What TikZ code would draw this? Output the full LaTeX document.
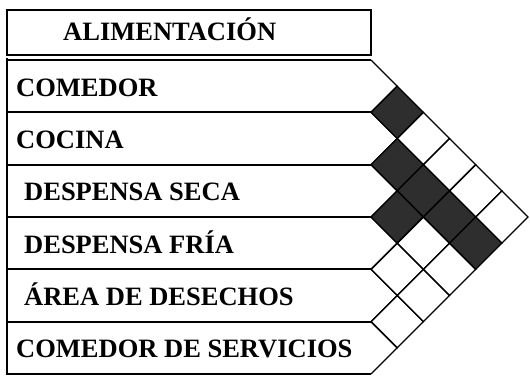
\documentclass[tikz,border=0pt]{standalone}
\usepackage{fontspec}
\setmainfont{Liberation Serif}
\begin{document}
\begin{tikzpicture}[x=1pt,y=-1pt,
  hline/.style={line width=2.2pt},
  frameline/.style={line width=1.6pt},
  gridline/.style={line width=1.3pt,line join=miter},
  shaded/.style={fill=black!82},
  lbl/.style={font=\bfseries\fontsize{26.5}{30}\selectfont,inner sep=0pt,anchor=base west}]
\useasboundingbox (0,0) rectangle (530,377);
\def\xr{371}
\def\hh{26.1667}
% header
\draw[frameline] (7,10) rectangle (\xr,55);
\node[lbl] (head) at (63,41) {ALIMENTACIÓN};
% rows
\foreach \i in {1,...,6}{
  \pgfmathsetmacro\top{60+(\i-1)*2*\hh}
  \pgfmathsetmacro\mid{\top+\hh}
  \pgfmathsetmacro\bot{\top+2*\hh}
  \coordinate (rt\i) at (\xr,\top);
  \coordinate (rp\i) at ({\xr+\hh},\mid);
  \coordinate (rb\i) at (\xr,\bot);
  \draw[hline] (7,\top) -- (rt\i);
  \draw[hline] (7,\bot) -- (rb\i);
  \draw[gridline] (rt\i) -- (rp\i) -- (rb\i);
}
\draw[frameline] (7,58) -- (7,375);
% matrix cells
\foreach \i/\j/\s in {1/2/1,1/3/0,1/4/0,1/5/0,1/6/0,
                      2/3/1,2/4/1,2/5/1,2/6/1,
                      3/4/1,3/5/0,3/6/0,
                      4/5/0,4/6/0,
                      5/6/0}{
  \pgfmathsetmacro\cx{\xr+\hh*(\j-\i)}
  \pgfmathsetmacro\cy{60+\hh*(\i+\j-1)}
  \ifnum\s=1
    \fill[shaded] (\cx-\hh,\cy) -- (\cx,\cy-\hh) -- (\cx+\hh,\cy) -- (\cx,\cy+\hh) -- cycle;
  \fi
  \draw[gridline] (\cx-\hh,\cy) -- (\cx,\cy-\hh) -- (\cx+\hh,\cy) -- (\cx,\cy+\hh) -- cycle;
}
% labels
\node[lbl] (l1) at (16,{60+1*\hh+10}) {COMEDOR};
\node[lbl] (l2) at (16,{60+3*\hh+10}) {COCINA};
\node[lbl] (l3) at (24,{60+5*\hh+10}) {DESPENSA SECA};
\node[lbl] (l4) at (24,{60+7*\hh+10}) {DESPENSA FRÍA};
\node[lbl] (l5) at (24,{60+9*\hh+10}) {ÁREA DE DESECHOS};
\node[lbl] (l6) at (16,{60+11*\hh+10}) {COMEDOR DE SERVICIOS};
\end{tikzpicture}
\end{document}
